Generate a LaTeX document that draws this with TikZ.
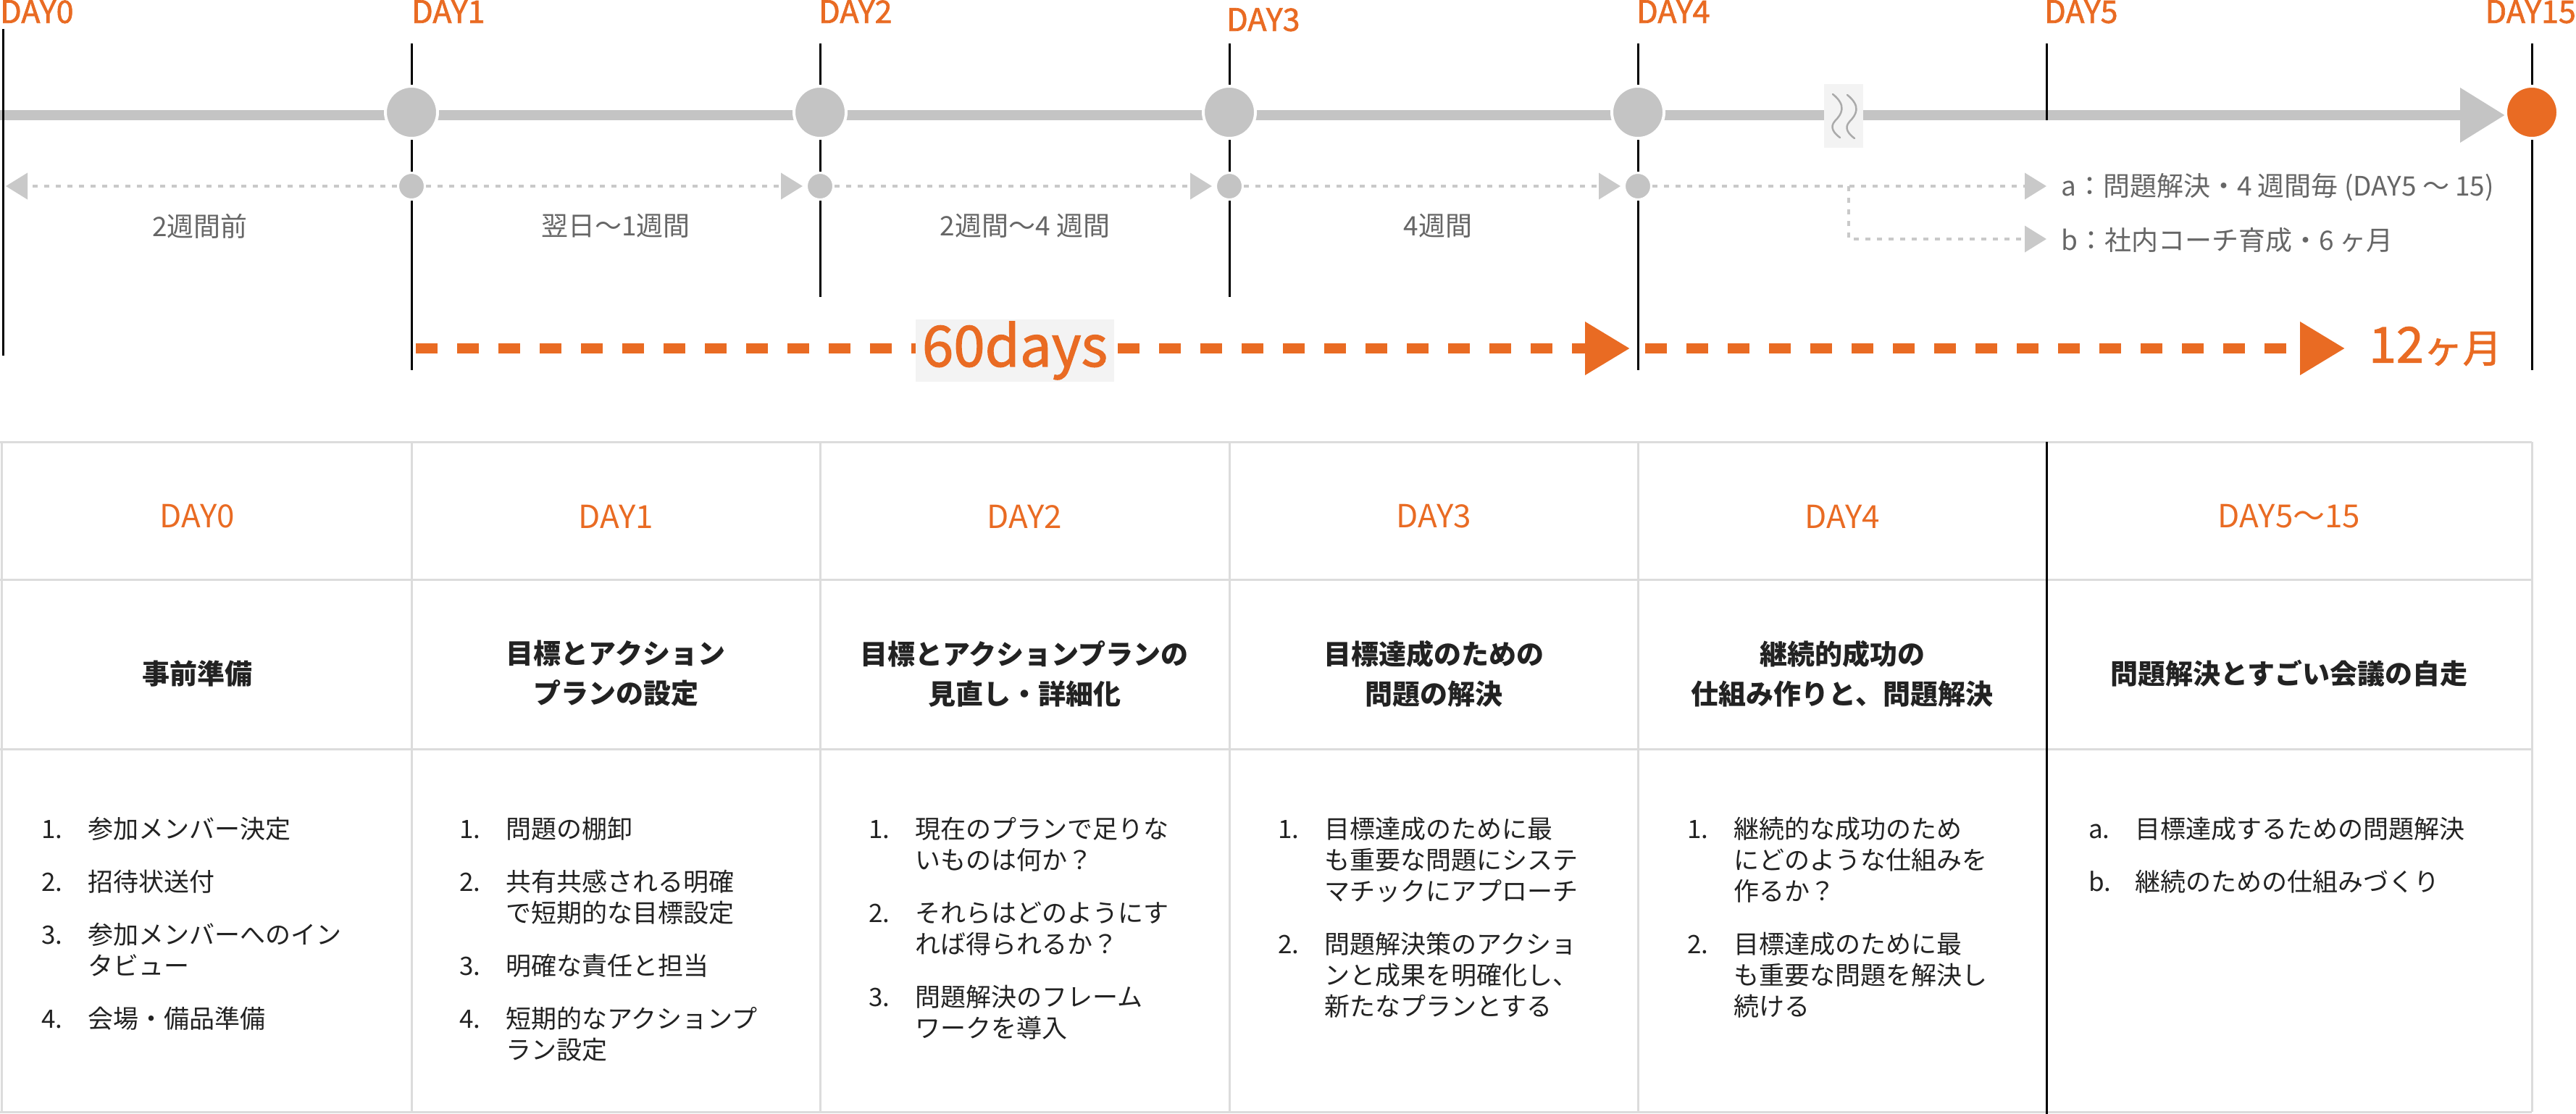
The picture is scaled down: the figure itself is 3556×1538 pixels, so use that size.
\documentclass[tikz,border=0pt]{standalone}
\usepackage{fontspec}
\setmainfont{Noto Sans CJK JP}
\newfontfamily\medfont{Noto Sans CJK JP}[FakeBold=1.6]
\usetikzlibrary{arrows.meta}

\definecolor{accent}{HTML}{E96B23}
\definecolor{bargray}{HTML}{C4C4C4}
\definecolor{dotgray}{HTML}{C9C9C9}
\definecolor{labelgray}{HTML}{666666}
\definecolor{rulegray}{HTML}{DCDCDC}
\definecolor{boxgray}{HTML}{F3F3F3}
\definecolor{wavegray}{HTML}{AAAAAA}
\definecolor{ink}{HTML}{222222}

\newcommand\itemno[1]{\makebox[64pt][l]{#1}}
\newcommand\itemind{\hspace*{64pt}}

\tikzset{
  bigdot/.style={circle, fill=bargray, draw=white, line width=4pt, minimum size=72pt, inner sep=0pt},
  smalldot/.style={circle, fill=bargray, draw=white, line width=3pt, minimum size=37pt, inner sep=0pt},
  tick/.style={line width=3pt, black},
  bar/.style={line width=14pt, bargray},
  dotline/.style={line width=4pt, dotgray, dash pattern=on 7pt off 9pt},
  dottip/.style={-{Triangle[width=36pt,length=30pt]}},
  orangeline/.style={line width=14pt, accent, dash pattern=on 30pt off 27pt, -{Triangle[width=70pt,length=62pt]}},
  rule/.style={line width=3pt, rulegray},
  daylabel/.style={inner sep=0pt, text=accent, font=\medfont\fontsize{43}{43}\selectfont},
  weeklabel/.style={inner sep=0pt, text=labelgray, font=\fontsize{37}{37}\selectfont},
  headcell/.style={inner sep=0pt, text=accent, font=\fontsize{44}{44}\selectfont},
  titlecell/.style={inner sep=0pt, align=center, text=ink, font=\bfseries\fontsize{38}{55}\selectfont},
  listcell/.style={inner sep=0pt, anchor=north west, align=left, text=ink, font=\fontsize{35}{43}\selectfont},
}

\begin{document}
\begin{tikzpicture}[x=1pt,y=-1pt]
\useasboundingbox (0,0) rectangle (3556,1538);

% day labels on top
\node[daylabel, anchor=north west] (d0) at (0,0) {DAY0};
\node[daylabel, anchor=north west] (d1) at (568,0) {DAY1};
\node[daylabel, anchor=north west] (d2) at (1130,0) {DAY2};
\node[daylabel, anchor=north west] (d3) at (1693,11) {DAY3};
\node[daylabel, anchor=north west] (d4) at (2259,0) {DAY4};
\node[daylabel, anchor=north west] (d5) at (2822,0) {DAY5};
\node[daylabel, anchor=north east] (d6) at (3556,0) {DAY15};

% main bar
\coordinate (start) at (0,159);
\node[bigdot, fill=accent] (m6) at (3495,155) {};
\draw[bar, -{Triangle[width=72pt,length=62pt]}] (start) -- (3458,159);

% break mark
\node[fill=boxgray, minimum width=54pt, minimum height=88pt, inner sep=0pt] (brk) at (2545,160) {};
\draw[wavegray, line width=2.5pt, line cap=round] (2530,130) .. controls (2550,146) and (2542,158) .. (2533,167) .. controls (2525,176) and (2532,184) .. (2540,190);
\draw[wavegray, line width=2.5pt, line cap=round] (2550,131) .. controls (2570,147) and (2562,159) .. (2553,168) .. controls (2545,177) and (2552,185) .. (2560,191);

% ticks
\foreach \x/\a/\b in {4/40/491, 568/60/511, 1132/60/410, 1697/60/410, 2261/60/511, 2825/60/166, 3495/60/511}
  \draw[tick] (\x,\a) -- (\x,\b);

\foreach \i/\x in {1/568, 2/1132, 3/1697, 4/2261} {
  \node[bigdot] (m\i) at (\x,155) {};
  \node[smalldot] (s\i) at (\x,257) {};
}
\node[bigdot, fill=accent] at (m6) {};

% dotted spans
\coordinate (e0) at (8,257);
\coordinate (ta) at (2825,257);
\coordinate (tb) at (2825,330);
\coordinate (br) at (2552,257);
\draw[dotline, dottip] (s1) -- (e0);
\draw[dotline, dottip, shorten >=4pt] (s1) -- (s2);
\draw[dotline, dottip, shorten >=4pt] (s2) -- (s3);
\draw[dotline, dottip, shorten >=4pt] (s3) -- (s4);
\draw[dotline, dottip] (s4) -- (ta);
\draw[dotline, dottip] (br) |- (tb);

\node[weeklabel] (w0) at (276,312) {2週間前};
\node[weeklabel] (w1) at (850,312) {翌日～1週間};
\node[weeklabel] (w2) at (1415,312) {2週間～4 週間};
\node[weeklabel] (w3) at (1985,312) {4週間};
\node[weeklabel, anchor=west] (la) at (2845,259) {a：問題解決・4 週間毎 (DAY5 ～ 15)};
\node[weeklabel, anchor=west] (lb) at (2845,332) {b：社内コーチ育成・6 ヶ月};

% orange span
\coordinate (o0) at (574,481);
\coordinate (o1) at (2250,481);
\coordinate (o2) at (2271,481);
\coordinate (o3) at (3237,481);
\draw[orangeline] (o0) -- (o1);
\draw[orangeline] (o2) -- (o3);
\node[fill=boxgray, minimum width=274pt, minimum height=86pt, inner sep=0pt, text=accent, font=\medfont\fontsize{78}{78}\selectfont] (sixty) at (1401,484) {60days};
\node[anchor=west, inner sep=0pt, text=accent, font=\medfont] (year) at (3270,478) {\fontsize{68}{68}\selectfont 12\fontsize{54}{54}\selectfont ヶ月};

% table
\foreach \y in {610, 800, 1034, 1535}
  \draw[rule] (0,\y) -- (3495,\y);
\foreach \x in {2, 568, 1132, 1697, 2261, 3495}
  \draw[rule] (\x,610) -- (\x,1535);
\draw[tick] (2825,610) -- (2825,1538);

\foreach \i/\x/\t in {0/272/DAY0, 1/850/DAY1, 2/1414/DAY2, 3/1979/DAY3, 4/2543/DAY4, 5/3160/DAY5～15}
  \node[headcell] (h\i) at (\x,713) {\t};

\node[titlecell] (t0) at (272,930) {事前準備};
\node[titlecell] (t1) at (850,930) {目標とアクション\\プランの設定};
\node[titlecell] (t2) at (1414,930) {目標とアクションプランの\\見直し・詳細化};
\node[titlecell] (t3) at (1979,930) {目標達成のための\\問題の解決};
\node[titlecell] (t4) at (2543,930) {継続的成功の\\仕組み作りと、問題解決};
\node[titlecell] (t5) at (3160,930) {問題解決とすごい会議の自走};

\node[listcell] (l0) at (57,1128) {\itemno{1.}参加メンバー決定\\[30pt]
  \itemno{2.}招待状送付\\[30pt]
  \itemno{3.}参加メンバーへのイン\\ \itemind タビュー\\[30pt]
  \itemno{4.}会場・備品準備};
\node[listcell] (l1) at (634,1128) {\itemno{1.}問題の棚卸\\[30pt]
  \itemno{2.}共有共感される明確\\ \itemind で短期的な目標設定\\[30pt]
  \itemno{3.}明確な責任と担当\\[30pt]
  \itemno{4.}短期的なアクションプ\\ \itemind ラン設定};
\node[listcell] (l2) at (1199,1128) {\itemno{1.}現在のプランで足りな\\ \itemind いものは何か？\\[30pt]
  \itemno{2.}それらはどのようにす\\ \itemind れば得られるか？\\[30pt]
  \itemno{3.}問題解決のフレーム\\ \itemind ワークを導入};
\node[listcell] (l3) at (1764,1128) {\itemno{1.}目標達成のために最\\ \itemind も重要な問題にシステ\\ \itemind マチックにアプローチ\\[30pt]
  \itemno{2.}問題解決策のアクショ\\ \itemind ンと成果を明確化し、\\ \itemind 新たなプランとする};
\node[listcell] (l4) at (2329,1128) {\itemno{1.}継続的な成功のため\\ \itemind にどのような仕組みを\\ \itemind 作るか？\\[30pt]
  \itemno{2.}目標達成のために最\\ \itemind も重要な問題を解決し\\ \itemind 続ける};
\node[listcell] (l5) at (2883,1128) {\itemno{a.}目標達成するための問題解決\\[30pt]
  \itemno{b.}継続のための仕組みづくり};
\end{tikzpicture}
\end{document}
